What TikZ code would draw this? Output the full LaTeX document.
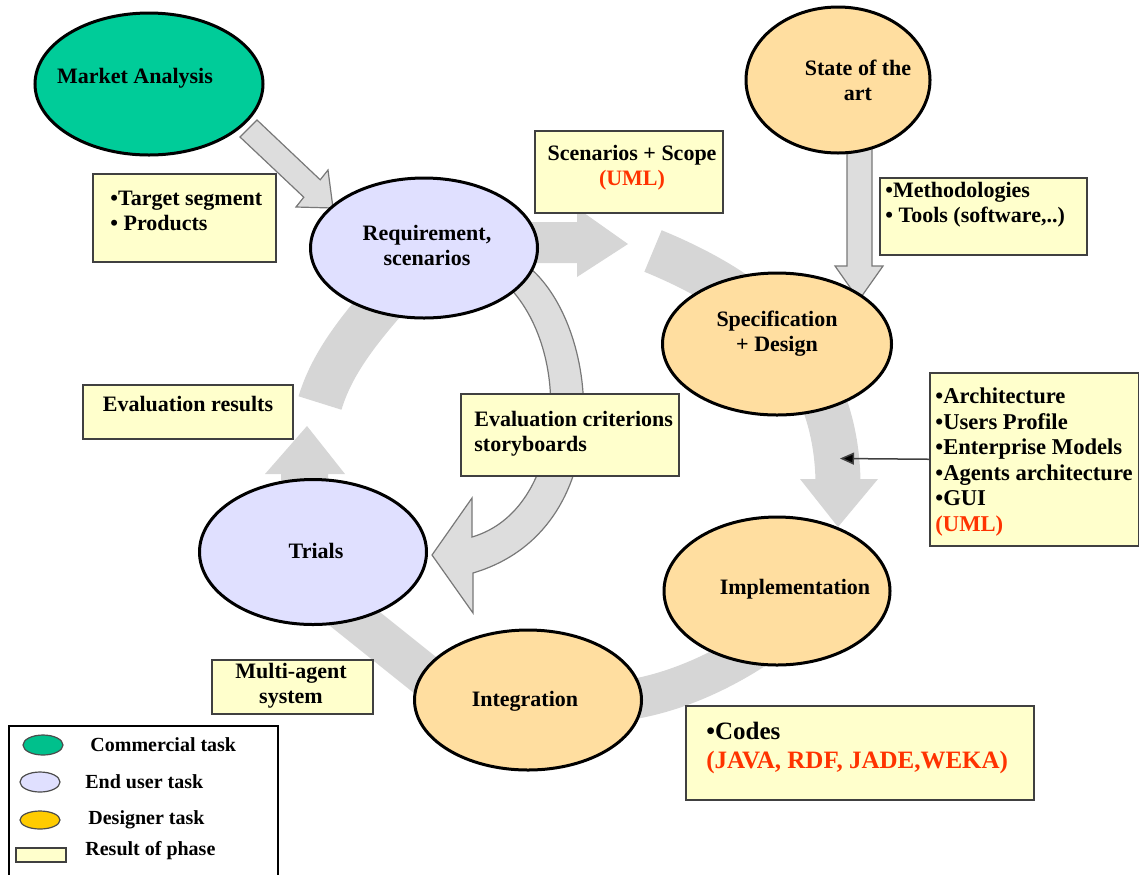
\documentclass[tikz,border=0pt]{standalone}
\usepackage{fontspec}
\setmainfont{Liberation Serif}
\usetikzlibrary{arrows.meta,shapes.geometric}

\definecolor{commercial}{RGB}{0,204,153}
\definecolor{legendgreen}{RGB}{0,192,140}
\definecolor{enduser}{RGB}{224,224,255}
\definecolor{designer}{RGB}{255,222,160}
\definecolor{legenddesigner}{RGB}{255,204,0}
\definecolor{resultfill}{RGB}{255,255,204}
\definecolor{boxline}{RGB}{64,64,64}
\definecolor{umlred}{RGB}{255,51,0}
\definecolor{blockgray}{RGB}{221,221,221}
\definecolor{blockline}{RGB}{120,120,120}
\definecolor{ringgray}{RGB}{214,214,214}

\begin{document}
\begin{tikzpicture}[x=0.5pt,y=-0.5pt,
    task/.style={ellipse, draw=black, line width=1.5pt, inner sep=0pt},
    legmark/.style={ellipse, draw=black!70, line width=0.6pt, inner sep=0pt, minimum width=20pt, minimum height=10pt},
    txt/.style={inner sep=0pt, align=center, font=\fontsize{11}{12.5}\selectfont\bfseries},
    legtxt/.style={inner sep=0pt, anchor=west, font=\fontsize{10}{12}\selectfont\bfseries},
    resbox/.style={rectangle, draw=boxline, fill=resultfill, line width=0.75pt, inner sep=0pt, anchor=north west},
    ring/.style={draw=ringgray, line width=22.5pt},
    ringhead/.style={fill=ringgray},
    block/.style={fill=blockgray, draw=blockline, line width=0.6pt},
    pointer/.style={draw=boxline, line width=0.75pt, -{Triangle[length=7pt,width=6pt,fill=black]}}]

    \useasboundingbox (0,0) rectangle (1139,874);

    % the cycle
    \fill[ringhead] (528,222) -- (577,222) -- (577,208) -- (628,244) -- (577,277) -- (577,263) -- (528,263) -- cycle;
    \draw[ring] (653,251) .. controls (760,295) and (835,360) .. (838,480);
    \fill[ringhead] (800,479) -- (878,479) -- (838,527) -- cycle;
    \draw[ring, line width=20pt] (600,703) .. controls (660,700) and (720,675) .. (775,635);
    \draw[ring, line width=21pt] (335,603) -- (455,699);
    \fill[ringhead] (281,490) -- (281,474) -- (265,474) -- (307,426) -- (345,474) -- (328,474) -- (328,490) -- cycle;
    \draw[ring] (320,403) .. controls (330,370) and (350,340) .. (385,300);

    % block arrows
    \filldraw[block] (240,137) -- (303.8,197.2) -- (296,207) -- (333,208) -- (328,170) -- (320.2,179.8) -- (257,120) -- cycle;
    \filldraw[block] (847,140) -- (847,266) -- (835,266) -- (859,300) -- (883,266) -- (872,266) -- (872,140) -- cycle;
    \filldraw[block] (530,268) .. controls (602,330) and (618,530) .. (473,573) -- (473,613) -- (432,555) -- (472,498)
        -- (472,537) .. controls (565,510) and (575,350) .. (505,283) -- cycle;

    % tasks
    \node[task, fill=commercial, minimum width=114pt, minimum height=71pt] (market) at (149,84) {};
    \node[task, fill=designer, minimum width=92pt, minimum height=73pt] (sota) at (838,80) {};
    \node[task, fill=enduser, minimum width=113.5pt, minimum height=70pt] (req) at (424,248) {};
    \node[task, fill=designer, minimum width=114.5pt, minimum height=71pt] (spec) at (777,344) {};
    \node[task, fill=enduser, minimum width=113.5pt, minimum height=72.5pt] (trials) at (313,552) {};
    \node[task, fill=designer, minimum width=113pt, minimum height=74pt] (impl) at (777,591) {};
    \node[task, fill=designer, minimum width=113.5pt, minimum height=70pt] (integ) at (528,700) {};

    \node[txt] (markettext) at (135,78) {Market Analysis};
    \node[txt] (sotatext) at (858,80) {State of the\\art};
    \node[txt] (reqtext) at (427,245) {Requirement,\\scenarios};
    \node[txt] (spectext) at (777,334) {Specification\\+ Design};
    \node[txt] (trialstext) at (316,551) {Trials};
    \node[txt] (impltext) at (795,589) {Implementation};
    \node[txt] (integtext) at (525,701) {Integration};

    % results
    \node[resbox, minimum width=91.5pt, minimum height=44pt] (targetbox) at (92,173) {};
    \node[resbox, minimum width=94pt, minimum height=41pt] (scenbox) at (534,130) {};
    \node[resbox, minimum width=103.5pt, minimum height=38.5pt] (methbox) at (879,177) {};
    \node[resbox, minimum width=105pt, minimum height=27pt] (evalbox) at (82,384) {};
    \node[resbox, minimum width=109pt, minimum height=41pt] (critbox) at (460,393) {};
    \node[resbox, minimum width=104.5pt, minimum height=86.5pt] (archbox) at (929,372) {};
    \node[resbox, minimum width=80.5pt, minimum height=27pt] (agentbox) at (211,659) {};
    \node[resbox, minimum width=174pt, minimum height=47pt] (codesbox) at (685,705) {};

    \node[txt, anchor=west, align=left] (targettext) at (110,210.5) {•Target segment\\• Products};
    \node[txt] (scentext) at (632,167.5) {Scenarios + Scope\\\textcolor{umlred}{(UML)}};
    \node[txt, anchor=west, align=left] (methtext) at (885,205) {•Methodologies\\• Tools (software,..)};
    \node[txt] (evaltext) at (188,404) {Evaluation results};
    \node[txt, anchor=west, align=left] (crittext) at (474,434) {Evaluation criterions\\storyboards};
    \node[txt, anchor=west, align=left, font=\fontsize{11.3}{12.8}\selectfont\bfseries] (archtext) at (935,462)
        {•Architecture\\•Users Profile\\•Enterprise Models\\•Agents architecture\\•GUI\\\textcolor{umlred}{(UML)}};
    \node[txt] (agenttext) at (291,685.5) {Multi-agent\\system};
    \node[txt, anchor=west, align=left, font=\fontsize{12.5}{14.5}\selectfont\bfseries] (codestext) at (706,747.5)
        {•Codes\\\textcolor{umlred}{(JAVA, RDF, JADE,WEKA)}};

    \coordinate (ringtarget) at (840,458.5);
    \draw[pointer] (archbox.west) -- (ringtarget);

    % legend
    \node[draw=black, line width=0.75pt, inner sep=0pt, anchor=north west, minimum width=134.5pt, minimum height=76pt] (legendframe) at (8,725) {};
    \node[legmark, fill=legendgreen] (legcom) at (43,745) {};
    \node[legmark, fill=enduser] (leguser) at (40,782) {};
    \node[legmark, fill=legenddesigner, minimum height=9pt] (legdes) at (40,820) {};
    \node[resbox, minimum width=25pt, minimum height=7pt] (legres) at (15,847) {};
    \node[legtxt] (legcomtext) at (90,745) {Commercial task};
    \node[legtxt] (legusertext) at (85,782) {End user task};
    \node[legtxt] (legdestext) at (88,820) {Designer task};
    \node[legtxt] (legrestext) at (85,851) {Result of phase};
\end{tikzpicture}
\end{document}
